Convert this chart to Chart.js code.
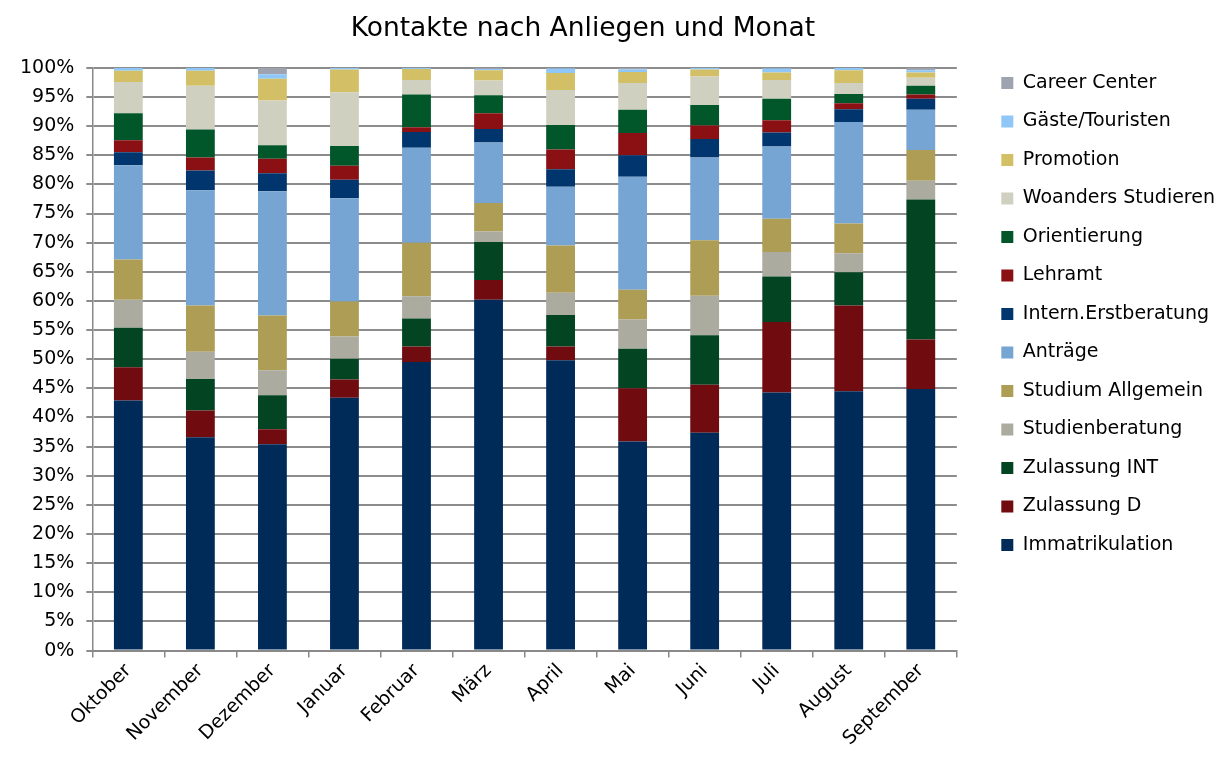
<!DOCTYPE html>
<html>
<head>
<meta charset="utf-8">
<script src="https://cdn.jsdelivr.net/npm/chart.js@4/dist/chart.umd.min.js"></script>
<style>
  html, body { margin: 0; padding: 0; background: #fff; }
  #wrap { width: 1224px; height: 758px; }
</style>
</head>
<body>
<div id="wrap"><canvas id="kontakteChart"></canvas></div>
<script>
// Monate
const months = ['Oktober', 'November', 'Dezember', 'Januar', 'Februar', 'März', 'April', 'Mai', 'Juni', 'Juli', 'August', 'September'];

// Anteile je Anliegen (in %), von unten nach oben gestapelt
const immatrikulation = [42.9, 36.6, 35.4, 43.4, 49.5, 60.2, 49.8, 35.9, 37.4, 44.3, 44.5, 44.9];
const zulassungD = [5.7, 4.6, 2.6, 3.1, 2.7, 3.4, 2.4, 9.1, 8.2, 12.1, 14.7, 8.5];
const zulassungInt = [6.8, 5.4, 5.8, 3.6, 4.8, 6.5, 5.4, 6.8, 8.5, 7.8, 5.7, 24.0];
const studienberatung = [4.8, 4.7, 4.3, 3.8, 3.8, 1.8, 3.8, 5.0, 6.8, 4.2, 3.3, 3.2];
const studiumAllgemein = [6.9, 7.9, 9.4, 6.0, 9.2, 4.9, 8.1, 5.1, 9.5, 5.7, 5.1, 5.3];
const antraege = [16.2, 19.8, 21.3, 17.7, 16.3, 10.4, 10.1, 19.4, 14.2, 12.4, 17.4, 6.9];
const internErstberatung = [2.2, 3.4, 3.1, 3.2, 2.7, 2.3, 3.0, 3.7, 3.2, 2.4, 2.2, 1.9];
const lehramt = [2.05, 2.2, 2.5, 2.4, 0.8, 2.7, 3.4, 3.8, 2.3, 2.1, 1.0, 0.7];
const orientierung = [4.65, 4.8, 2.3, 3.4, 5.6, 3.1, 4.2, 4.0, 3.5, 3.7, 1.6, 1.5];
const woandersStudieren = [5.35, 7.5, 7.7, 9.2, 2.5, 2.5, 6.0, 4.6, 4.9, 3.2, 1.9, 1.4];
const promotion = [1.95, 2.6, 3.7, 3.9, 1.9, 1.8, 2.9, 1.9, 1.2, 1.3, 2.2, 0.9];
const gaesteTouristen = [0.5, 0.5, 0.8, 0.3, 0.2, 0.2, 0.8, 0.4, 0.3, 0.7, 0.4, 0.4];
const careerCenter = [0, 0, 1.1, 0, 0, 0.2, 0.1, 0.3, 0, 0.1, 0, 0.4];

// Achsenbeschriftung
const yTicks = [0, 5, 10, 15, 20, 25, 30, 35, 40, 45, 50, 55, 60, 65, 70, 75, 80, 85, 90, 95, 100];

const series = [
    ['Immatrikulation', immatrikulation, '#002b59'],
    ['Zulassung D', zulassungD, '#700b10'],
    ['Zulassung INT', zulassungInt, '#034522'],
    ['Studienberatung', studienberatung, '#abab9f'],
    ['Studium Allgemein', studiumAllgemein, '#ae9d55'],
    ['Anträge', antraege, '#76a4d3'],
    ['Intern.Erstberatung', internErstberatung, '#00366d'],
    ['Lehramt', lehramt, '#8b1014'],
    ['Orientierung', orientierung, '#02572a'],
    ['Woanders Studieren', woandersStudieren, '#d0d0c0'],
    ['Promotion', promotion, '#d3c066'],
    ['Gäste/Touristen', gaesteTouristen, '#8fc8f8'],
    ['Career Center', careerCenter, '#9fa3b0']
];

const font = 'DejaVu Sans, Verdana, sans-serif';

// Legende etwas weiter nach rechts schieben (Abstand zum Diagramm wie im Original)
const legendShift = {
    id: 'legendShift',
    afterLayout(chart) {
        chart.legend.left += 25;
        chart.legend.right += 25;
    }
};

const ctx = document.getElementById('kontakteChart').getContext('2d');
const kontakteChart = new Chart(ctx, {
    type: 'bar',
    data: {
        labels: months,
        datasets: series.map(s => ({
            label: s[0],
            data: s[1],
            backgroundColor: s[2],
            borderWidth: 0,
            barPercentage: 0.4,
            categoryPercentage: 1
        }))
    },
    options: {
        responsive: true,
        maintainAspectRatio: false,
        animation: false,
        layout: { padding: { left: 8, right: 24, top: 5, bottom: 6 } },
        plugins: {
            title: {
                display: true,
                // nachgestellte Leerzeichen ruecken den Titel etwas nach links
                text: 'Kontakte nach Anliegen und Monat\u00a0\u00a0\u00a0\u00a0\u00a0',
                color: '#000',
                font: { family: font, size: 26.5, weight: 'normal' },
                padding: { top: 8, bottom: 23 }
            },
            legend: {
                position: 'right',
                align: 'start',
                reverse: true,
                title: {
                    display: true,
                    text: ' ',
                    font: { family: font, size: 10 },
                    padding: { top: 0, bottom: 37 }
                },
                labels: {
                    color: '#000',
                    font: { family: font, size: 19 },
                    boxWidth: 12,
                    boxHeight: 12,
                    padding: 19.5
                }
            },
            tooltip: { enabled: false }
        },
        scales: {
            x: {
                stacked: true,
                grid: { drawOnChartArea: false, drawTicks: true, tickLength: 7, color: '#888', lineWidth: 1.5 },
                border: { color: '#888', width: 1.5 },
                ticks: {
                    color: '#000',
                    font: { family: font, size: 19 },
                    minRotation: 45,
                    maxRotation: 45,
                    padding: 2
                }
            },
            y: {
                stacked: true,
                min: 0,
                max: 100,
                afterBuildTicks: axis => { axis.ticks = yTicks.map(v => ({ value: v })); },
                grid: { color: '#8c8c8c', lineWidth: 2, tickLength: 6 },
                border: { color: '#888', width: 1.5 },
                ticks: {
                    color: '#000',
                    font: { family: font, size: 19 },
                    padding: 12,
                    callback: v => v + '%'
                }
            }
        }
    },
    plugins: [legendShift]
});
</script>
</body>
</html>
